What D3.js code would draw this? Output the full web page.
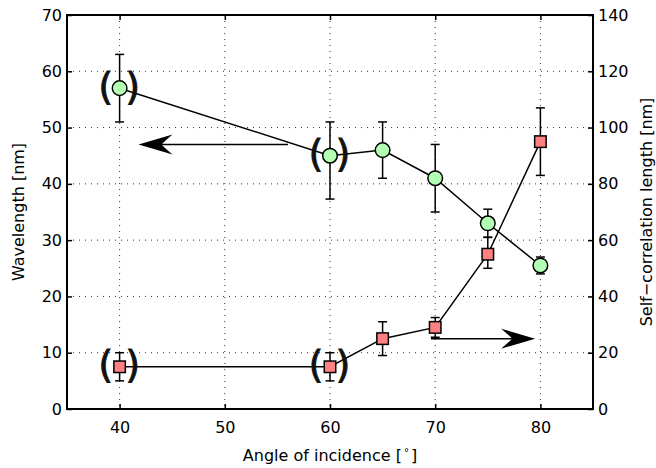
<!DOCTYPE html>
<html>
<head>
<meta charset="UTF-8">
<title>Wavelength and self-correlation length</title>
<script src="https://cdn.jsdelivr.net/npm/d3@7"></script>
<style>
  body { margin: 0; background: #fff; }
  text { font-family: "DejaVu Sans", sans-serif; }
</style>
</head>
<body>
<div id="chart"></div>
<script>
// data
var angles = [40, 60, 65, 70, 75, 80];
var wavelength = [57, 45, 46, 41, 33, 25.5];          // left axis
var wavelengthLow = [6, 7.7, 5, 6, 2.5, 1.5];
var wavelengthHigh = [6, 6, 5, 6, 2.5, 1.5];
var corrLength = [15, 15, 25, 29, 55, 95];            // right axis
var corrLengthLow = [5, 5, 6, 3.5, 5, 12];
var corrLengthHigh = [5, 5, 6, 3.5, 6, 12];
var bracketed = [40, 60];                             // points shown in ( )
var xTicks = [40, 50, 60, 70, 80];
var leftTicks = [0, 10, 20, 30, 40, 50, 60, 70];
var rightTicks = [0, 20, 40, 60, 80, 100, 120, 140];
// arrows: [x0, y0, x1, y1] in data units
var arrowLeft = [56, 47, 41.8, 47];
var arrowRight = [69.6, 25, 79.5, 25];

var W = 656, H = 468;
var m = {left: 67, right: 63, top: 15, bottom: 59};

var svg = d3.select("#chart").append("svg")
  .attr("width", W).attr("height", H);

var x = d3.scaleLinear().domain([35, 85]).range([m.left, W - m.right]);
var yL = d3.scaleLinear().domain([0, 70]).range([H - m.bottom, m.top]);
var yR = d3.scaleLinear().domain([0, 140]).range([H - m.bottom, m.top]);

// grid
var grid = svg.append("g").attr("stroke", "#333").attr("stroke-width", 1)
  .attr("stroke-dasharray", "1,5");
grid.selectAll(".gx").data(xTicks).enter().append("line")
  .attr("x1", function(d){ return x(d); }).attr("x2", function(d){ return x(d); })
  .attr("y1", m.top).attr("y2", H - m.bottom);
grid.selectAll(".gy").data(leftTicks).enter().append("line")
  .attr("y1", function(d){ return yL(d); }).attr("y2", function(d){ return yL(d); })
  .attr("x1", m.left).attr("x2", W - m.right);

// axes
function style(g) {
  g.select(".domain").remove();
  g.selectAll(".tick line").attr("stroke", "#000").attr("stroke-width", 1.5);
  g.selectAll("text").attr("font-size", 16).attr("fill", "#000")
    .attr("font-family", "DejaVu Sans");
}
svg.append("g").attr("transform", "translate(0," + (H - m.bottom) + ")")
  .call(d3.axisBottom(x).tickValues(xTicks).tickSize(-5).tickPadding(12.5))
  .call(style);
svg.append("g").attr("transform", "translate(0," + m.top + ")")
  .call(d3.axisTop(x).tickValues(xTicks).tickSize(-5).tickFormat(""))
  .call(style);
svg.append("g").attr("transform", "translate(" + m.left + ",0)")
  .call(d3.axisLeft(yL).tickValues(leftTicks).tickSize(-5).tickPadding(5))
  .call(style);
svg.append("g").attr("transform", "translate(" + (W - m.right) + ",0)")
  .call(d3.axisRight(yR).tickValues(rightTicks).tickSize(-5).tickPadding(5))
  .call(style);

svg.append("rect")
  .attr("x", m.left).attr("y", m.top)
  .attr("width", W - m.left - m.right).attr("height", H - m.top - m.bottom)
  .attr("fill", "none").attr("stroke", "#000").attr("stroke-width", 2);

// labels
var xl = svg.append("text").attr("x", (m.left + W - m.right) / 2).attr("y", 461)
  .attr("text-anchor", "middle").attr("font-size", 16);
xl.append("tspan").text("Angle of incidence [");
xl.append("tspan").attr("font-size", 10).attr("dy", -5).text("\u2009°\u2009");
xl.append("tspan").attr("dy", 5).text("]");

svg.append("text")
  .attr("transform", "translate(24," + (m.top + H - m.bottom) / 2 + ") rotate(-90)")
  .attr("text-anchor", "middle").attr("font-size", 16).text("Wavelength [nm]");
svg.append("text")
  .attr("transform", "translate(652," + (m.top + H - m.bottom) / 2 + ") rotate(-90)")
  .attr("text-anchor", "middle").attr("font-size", 16)
  .text("Self\u2212correlation length [nm]");

// series
function series(vals, low, high, y, kind, fill) {
  var pts = angles.map(function(a, i){
    return {a: a, v: vals[i], lo: vals[i] - low[i], hi: vals[i] + high[i]};
  });
  var line = d3.line().x(function(d){ return x(d.a); }).y(function(d){ return y(d.v); });
  svg.append("path").datum(pts).attr("d", line)
    .attr("fill", "none").attr("stroke", "#000").attr("stroke-width", 1.5);

  var eb = svg.append("g").attr("stroke", "#000").attr("stroke-width", 1.5);
  pts.forEach(function(d){
    eb.append("line").attr("x1", x(d.a)).attr("x2", x(d.a))
      .attr("y1", y(d.lo)).attr("y2", y(d.hi));
    [d.lo, d.hi].forEach(function(e){
      eb.append("line").attr("x1", x(d.a) - 4.5).attr("x2", x(d.a) + 4.5)
        .attr("y1", y(e)).attr("y2", y(e));
    });
  });

  var mk = svg.append("g").attr("fill", fill).attr("stroke", "#000").attr("stroke-width", 1.5);
  if (kind === "circle") {
    mk.selectAll("circle").data(pts).enter().append("circle")
      .attr("cx", function(d){ return x(d.a); }).attr("cy", function(d){ return y(d.v); })
      .attr("r", 7.3);
  } else {
    mk.selectAll("rect").data(pts).enter().append("rect")
      .attr("x", function(d){ return x(d.a) - 5.75; }).attr("y", function(d){ return y(d.v) - 5.75; })
      .attr("width", 11.5).attr("height", 11.5);
  }

  // parentheses round the doubtful points
  var br = pts.filter(function(d){ return bracketed.indexOf(d.a) >= 0; });
  var bg = svg.append("g").attr("font-size", 37)
    .attr("text-anchor", "middle").attr("fill", "#111")
    .attr("stroke", "#111").attr("stroke-width", 1);
  br.forEach(function(d){
    bg.append("text").attr("x", x(d.a) - 14).attr("y", y(d.v) + 11.5).text("(");
    bg.append("text").attr("x", x(d.a) + 13).attr("y", y(d.v) + 11.5).text(")");
  });
}
series(wavelength, wavelengthLow, wavelengthHigh, yL, "circle", "#b3ffb3");
series(corrLength, corrLengthLow, corrLengthHigh, yR, "square", "#ff8080");

// arrows
function arrow(a, y) {
  var x0 = x(a[0]), y0 = y(a[1]), x1 = x(a[2]), y1 = y(a[3]);
  var dir = x1 > x0 ? 1 : -1;
  var L = 34, h = 10;
  svg.append("line").attr("x1", x0).attr("y1", y0).attr("x2", x1 - dir * 20).attr("y2", y1)
    .attr("stroke", "#000").attr("stroke-width", 1.5);
  var p = d3.path();
  p.moveTo(x1, y1);
  p.lineTo(x1 - dir * L, y1 - h);
  p.quadraticCurveTo(x1 - dir * L * 0.72, y1 - 2, x1 - dir * L * 0.68, y1);
  p.quadraticCurveTo(x1 - dir * L * 0.72, y1 + 2, x1 - dir * L, y1 + h);
  p.closePath();
  svg.append("path").attr("d", p.toString()).attr("fill", "#000");
}
arrow(arrowLeft, yL);
arrow(arrowRight, yR);
</script>
</body>
</html>
